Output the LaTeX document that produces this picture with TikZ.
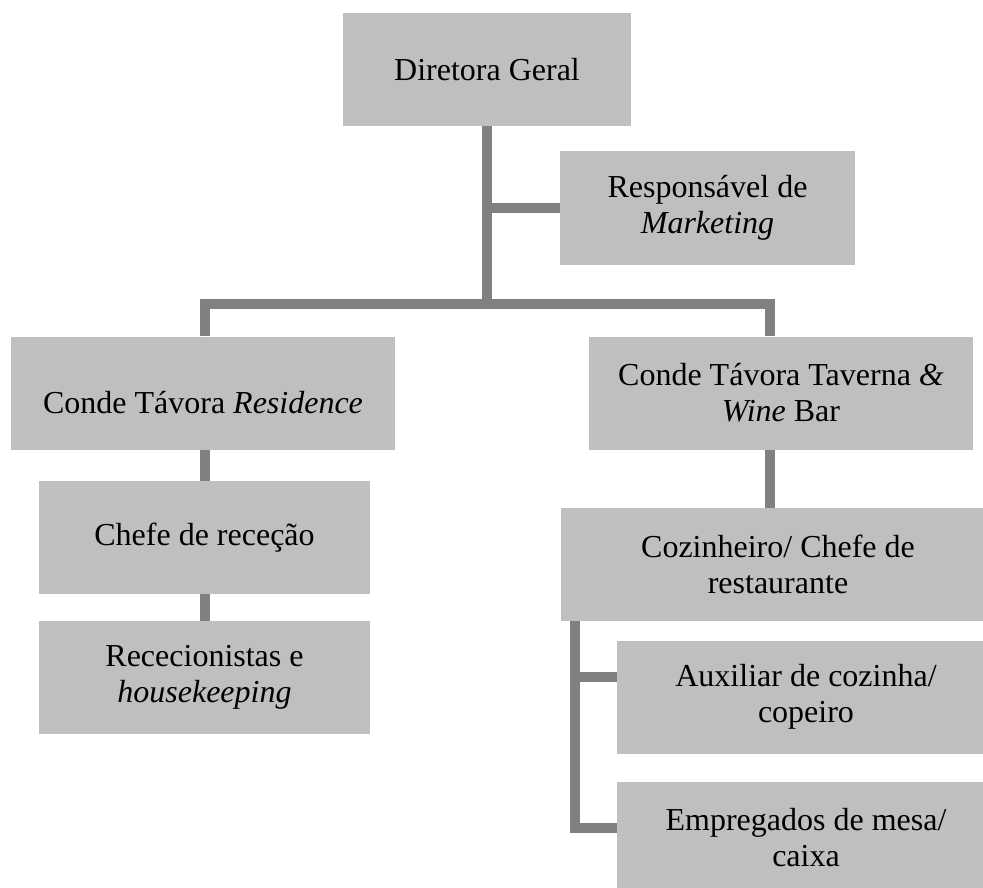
\documentclass[tikz,border=0pt]{standalone}
\usepackage{fontspec}
\setmainfont{Liberation Serif}
\usepackage{tikz}

\definecolor{caixacinza}{RGB}{191,191,191}
\definecolor{linhacinza}{RGB}{128,128,128}

\begin{document}
\begin{tikzpicture}[x=1pt,y=-1pt,
        cargo/.style={shape=rectangle,fill=caixacinza,inner sep=0pt,align=center,
            minimum height=113pt,font=\fontsize{32}{36}\selectfont},
        ligacao/.style={draw=linhacinza,line width=10pt,line join=miter}]
                \useasboundingbox (0,0) rectangle (983,888);

                \node[cargo,minimum width=288pt] (A) at (487,69.5) {Diretora Geral};
                \node[cargo,minimum width=295pt] (B) at (707.5,208) {Responsável de\\\textit{Marketing}};
                \node[cargo,minimum width=384pt] (C) at (203,393) {\raisebox{-10pt}[\height][\depth]{Conde Távora \textit{Residence}}};
                \node[cargo,minimum width=384pt] (D) at (781,393) {Conde Távora Taverna \textit{\&}\\\textit{Wine} Bar};
                \node[cargo,minimum width=331pt] (E) at (204.5,537.5) {Chefe de receção};
                \node[cargo,minimum width=331pt] (F) at (204.5,677.5) {Rececionistas e\\\textit{housekeeping}};
                \node[cargo,minimum width=434pt] (G) at (778,564.5) {Cozinheiro/ Chefe de\\restaurante};
                \node[cargo,minimum width=378pt] (H) at (806,697) {Auxiliar de cozinha/\\copeiro};
                \node[cargo,minimum width=378pt] (I) at (806,838) {Empregados de mesa/\\caixa};

                \coordinate (J) at (487,304);
                \coordinate (L) at (205,304);
                \coordinate (R) at (770,304);
                \coordinate (K1) at (575,677);
                \coordinate (K2) at (575,828);

                \draw[ligacao] (A.south) -- (J);
                \draw[ligacao] (A.south |- B.west) -- (B.west);
                \draw[ligacao] (C.north -| L) -- (L) -- (R) -- (D.north -| R);
                \draw[ligacao] (C.south -| L) -- (E.north -| L);
                \draw[ligacao] (E.south -| L) -- (F.north -| L);
                \draw[ligacao] (D.south -| R) -- (G.north -| R);
                \draw[ligacao] (G.south -| K1) -- (K2) -- (K2 -| I.west);
                \draw[ligacao] (K1) -- (K1 -| H.west);
            \end{tikzpicture}
\end{document}
